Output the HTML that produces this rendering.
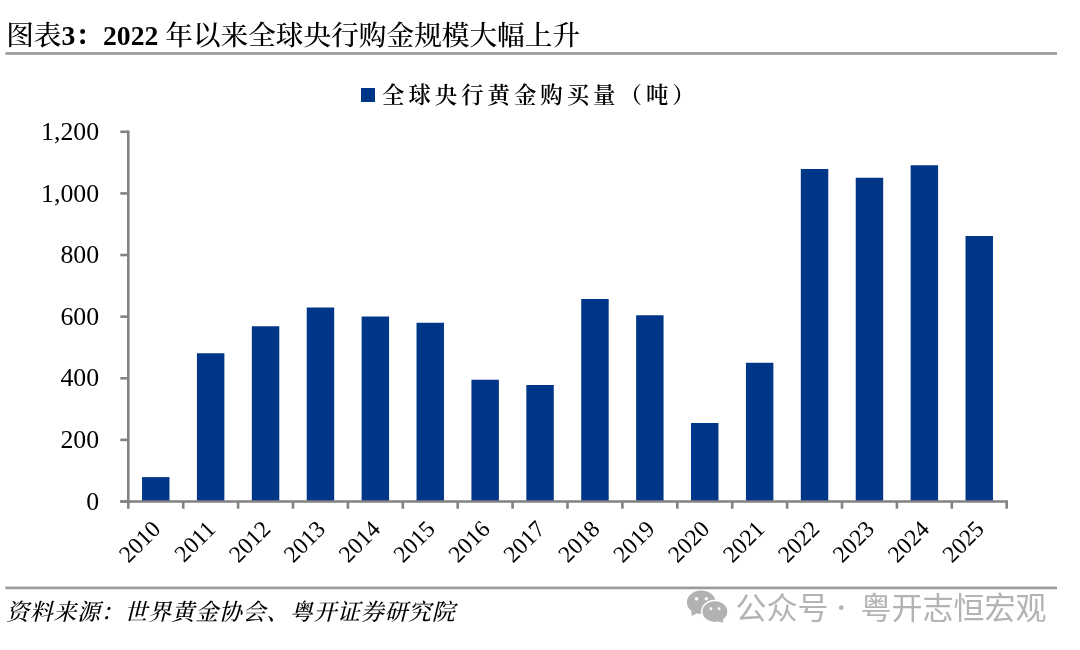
<!DOCTYPE html>
<html lang="zh-CN"><head><meta charset="utf-8"><title>图表3</title>
<style>
html,body{margin:0;padding:0;background:#fff;}
body{width:1080px;height:650px;position:relative;overflow:hidden;font-family:"Liberation Serif","Noto Serif CJK SC",serif;color:#000;}
.abs{position:absolute;white-space:nowrap;}
#title{left:6.2px;top:15.5px;font-size:27.66px;line-height:40px;font-weight:500;}
#title b{font-weight:700;}
#legend{left:382px;top:78.1px;font-size:22.4px;line-height:36px;letter-spacing:4px;font-weight:600;}
#swatch{position:absolute;left:361px;top:88px;width:14px;height:14px;background:#003688;}
#src{left:6px;top:594.8px;font-size:23px;letter-spacing:0.65px;line-height:36px;font-style:italic;font-weight:500;}
#wm{left:735.4px;top:587.8px;font-size:31px;line-height:42px;color:#b3b3b3;font-family:"Liberation Sans","Noto Sans CJK SC",sans-serif;}
.dot{display:inline-block;width:32px;text-align:center;}
.dot i{display:inline-block;font-style:normal;font-family:"Liberation Serif",serif;position:relative;left:-3.3px;top:-0.6px;transform:scale(1.3);}
svg{position:absolute;left:0;top:0;}
.num{font-family:"Liberation Serif",serif;font-size:25.8px;fill:#000;}
.xl{font-family:"Liberation Serif",serif;font-size:23.6px;fill:#000;}
</style></head><body>
<div id="title" class="abs">图表<b>3：2022</b> 年以来全球央行购金规模大幅上升</div>
<div id="swatch"></div>
<div id="legend" class="abs">全球央行黄金购买量（吨）</div>
<svg width="1080" height="650" viewBox="0 0 1080 650">
<rect x="142.03" y="477.10" width="27.45" height="24.40" fill="#003688"/>
<rect x="196.93" y="353.25" width="27.45" height="148.25" fill="#003688"/>
<rect x="251.83" y="326.25" width="27.45" height="175.25" fill="#003688"/>
<rect x="306.73" y="307.50" width="27.45" height="194.00" fill="#003688"/>
<rect x="361.62" y="316.50" width="27.45" height="185.00" fill="#003688"/>
<rect x="416.53" y="322.75" width="27.45" height="178.75" fill="#003688"/>
<rect x="471.43" y="379.75" width="27.45" height="121.75" fill="#003688"/>
<rect x="526.33" y="385.00" width="27.45" height="116.50" fill="#003688"/>
<rect x="581.23" y="299.00" width="27.45" height="202.50" fill="#003688"/>
<rect x="636.12" y="315.25" width="27.45" height="186.25" fill="#003688"/>
<rect x="691.02" y="423.00" width="27.45" height="78.50" fill="#003688"/>
<rect x="745.93" y="362.75" width="27.45" height="138.75" fill="#003688"/>
<rect x="800.82" y="169.00" width="27.45" height="332.50" fill="#003688"/>
<rect x="855.73" y="177.75" width="27.45" height="323.75" fill="#003688"/>
<rect x="910.63" y="165.25" width="27.45" height="336.25" fill="#003688"/>
<rect x="965.52" y="236.00" width="27.45" height="265.50" fill="#003688"/>
<line x1="128.3" y1="130.60000000000002" x2="128.3" y2="502.7" stroke="#828282" stroke-width="2.6"/>
<line x1="120.30000000000001" y1="501.5" x2="1007.90" y2="501.5" stroke="#828282" stroke-width="2.6"/>
<line x1="120.30000000000001" y1="131.80" x2="128.3" y2="131.80" stroke="#828282" stroke-width="2.6"/>
<line x1="120.30000000000001" y1="193.42" x2="128.3" y2="193.42" stroke="#828282" stroke-width="2.6"/>
<line x1="120.30000000000001" y1="255.03" x2="128.3" y2="255.03" stroke="#828282" stroke-width="2.6"/>
<line x1="120.30000000000001" y1="316.65" x2="128.3" y2="316.65" stroke="#828282" stroke-width="2.6"/>
<line x1="120.30000000000001" y1="378.27" x2="128.3" y2="378.27" stroke="#828282" stroke-width="2.6"/>
<line x1="120.30000000000001" y1="439.88" x2="128.3" y2="439.88" stroke="#828282" stroke-width="2.6"/>
<line x1="120.30000000000001" y1="501.50" x2="128.3" y2="501.50" stroke="#828282" stroke-width="2.6"/>
<line x1="128.30" y1="501.5" x2="128.30" y2="508.7" stroke="#828282" stroke-width="2.6"/>
<line x1="183.20" y1="501.5" x2="183.20" y2="508.7" stroke="#828282" stroke-width="2.6"/>
<line x1="238.10" y1="501.5" x2="238.10" y2="508.7" stroke="#828282" stroke-width="2.6"/>
<line x1="293.00" y1="501.5" x2="293.00" y2="508.7" stroke="#828282" stroke-width="2.6"/>
<line x1="347.90" y1="501.5" x2="347.90" y2="508.7" stroke="#828282" stroke-width="2.6"/>
<line x1="402.80" y1="501.5" x2="402.80" y2="508.7" stroke="#828282" stroke-width="2.6"/>
<line x1="457.70" y1="501.5" x2="457.70" y2="508.7" stroke="#828282" stroke-width="2.6"/>
<line x1="512.60" y1="501.5" x2="512.60" y2="508.7" stroke="#828282" stroke-width="2.6"/>
<line x1="567.50" y1="501.5" x2="567.50" y2="508.7" stroke="#828282" stroke-width="2.6"/>
<line x1="622.40" y1="501.5" x2="622.40" y2="508.7" stroke="#828282" stroke-width="2.6"/>
<line x1="677.30" y1="501.5" x2="677.30" y2="508.7" stroke="#828282" stroke-width="2.6"/>
<line x1="732.20" y1="501.5" x2="732.20" y2="508.7" stroke="#828282" stroke-width="2.6"/>
<line x1="787.10" y1="501.5" x2="787.10" y2="508.7" stroke="#828282" stroke-width="2.6"/>
<line x1="842.00" y1="501.5" x2="842.00" y2="508.7" stroke="#828282" stroke-width="2.6"/>
<line x1="896.90" y1="501.5" x2="896.90" y2="508.7" stroke="#828282" stroke-width="2.6"/>
<line x1="951.80" y1="501.5" x2="951.80" y2="508.7" stroke="#828282" stroke-width="2.6"/>
<line x1="1006.70" y1="501.5" x2="1006.70" y2="508.7" stroke="#828282" stroke-width="2.6"/>
<text x="99.1" y="139.90" text-anchor="end" class="num">1,200</text>
<text x="99.1" y="201.52" text-anchor="end" class="num">1,000</text>
<text x="99.1" y="263.13" text-anchor="end" class="num">800</text>
<text x="99.1" y="324.75" text-anchor="end" class="num">600</text>
<text x="99.1" y="386.37" text-anchor="end" class="num">400</text>
<text x="99.1" y="447.98" text-anchor="end" class="num">200</text>
<text x="99.1" y="509.60" text-anchor="end" class="num">0</text>
<text transform="translate(156.45,524.90) rotate(-45)" text-anchor="end" class="xl" dy="0.33em">2010</text>
<text transform="translate(211.35,524.90) rotate(-45)" text-anchor="end" class="xl" dy="0.33em">2011</text>
<text transform="translate(266.25,524.90) rotate(-45)" text-anchor="end" class="xl" dy="0.33em">2012</text>
<text transform="translate(321.15,524.90) rotate(-45)" text-anchor="end" class="xl" dy="0.33em">2013</text>
<text transform="translate(376.05,524.90) rotate(-45)" text-anchor="end" class="xl" dy="0.33em">2014</text>
<text transform="translate(430.95,524.90) rotate(-45)" text-anchor="end" class="xl" dy="0.33em">2015</text>
<text transform="translate(485.85,524.90) rotate(-45)" text-anchor="end" class="xl" dy="0.33em">2016</text>
<text transform="translate(540.75,524.90) rotate(-45)" text-anchor="end" class="xl" dy="0.33em">2017</text>
<text transform="translate(595.65,524.90) rotate(-45)" text-anchor="end" class="xl" dy="0.33em">2018</text>
<text transform="translate(650.55,524.90) rotate(-45)" text-anchor="end" class="xl" dy="0.33em">2019</text>
<text transform="translate(705.45,524.90) rotate(-45)" text-anchor="end" class="xl" dy="0.33em">2020</text>
<text transform="translate(760.35,524.90) rotate(-45)" text-anchor="end" class="xl" dy="0.33em">2021</text>
<text transform="translate(815.25,524.90) rotate(-45)" text-anchor="end" class="xl" dy="0.33em">2022</text>
<text transform="translate(870.15,524.90) rotate(-45)" text-anchor="end" class="xl" dy="0.33em">2023</text>
<text transform="translate(925.05,524.90) rotate(-45)" text-anchor="end" class="xl" dy="0.33em">2024</text>
<text transform="translate(979.95,524.90) rotate(-45)" text-anchor="end" class="xl" dy="0.33em">2025</text>
<rect x="5.4" y="52.1" width="1051.6" height="2.7" fill="#9a9b9a"/>
<rect x="5.4" y="586.55" width="1051.6" height="2.7" fill="#9a9b9a"/>
<g fill="#b2b2b2">
<ellipse cx="701.25" cy="602.2" rx="14.4" ry="11.6"/>
<path d="M691.2 609.5 L691.9 615.9 L698.2 612.6 Z"/>
<ellipse cx="714.9" cy="611.6" rx="13.15" ry="11.05" stroke="#fff" stroke-width="1.5"/>
<path d="M718 621.2 L723.3 622.7 L722.6 617.6 Z"/>
<g fill="#fff"><circle cx="696.6" cy="598.75" r="1.65"/><circle cx="706.25" cy="598.75" r="1.65"/><circle cx="710.9" cy="608.75" r="1.4"/><circle cx="719.1" cy="608.75" r="1.4"/></g>
</g>
</svg>
<div id="src" class="abs">资料来源：世界黄金协会、粤开证券研究院</div>
<div id="wm" class="abs">公众号<span class="dot"> <i>·</i> </span>粤开志恒宏观</div>
</body></html>
